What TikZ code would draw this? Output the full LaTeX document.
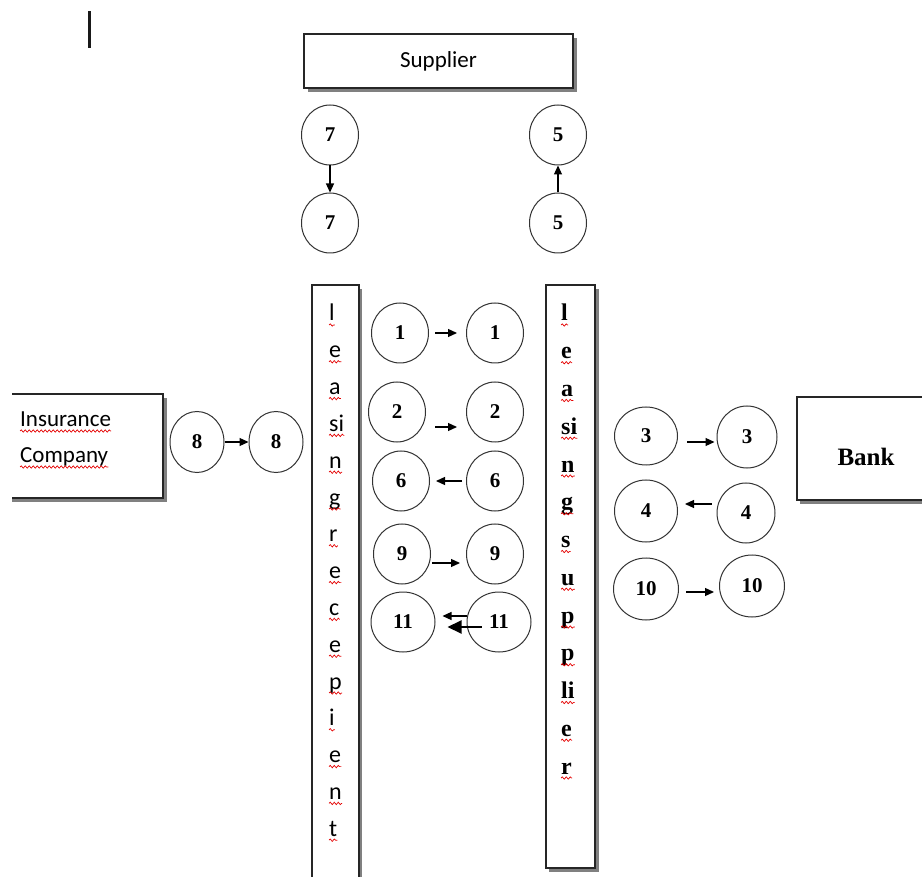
\documentclass[tikz,border=0pt]{standalone}
\usepackage{fontspec}
\setmainfont{Liberation Serif}
\newfontfamily\calibri{Carlito}
\usetikzlibrary{shapes.geometric,arrows.meta,decorations.pathmorphing}

\begin{document}
\begin{tikzpicture}[x=1pt,y=-1pt,
  every node/.style={inner sep=0pt},
  boxline/.style={draw=black!85, line width=1.1pt},
  shade/.style={fill=black!50},
  disc/.style={ellipse, draw=black!80, line width=1pt, minimum width=57pt,
    minimum height=60pt, font=\fontsize{21}{21}\selectfont\bfseries},
  arr/.style={draw=black, line width=1.2pt, -{Triangle[length=9pt,width=8pt]}},
  bigarr/.style={draw=black, line width=2pt, -{Triangle[length=14pt,width=13pt]}},
  squig/.style={draw=red!90!black, line width=0.7pt, decorate,
    decoration={snake, amplitude=1.2pt, segment length=4pt}},
  lletter/.style={anchor=base west, font=\calibri\fontsize{24}{24}\selectfont},
  rletter/.style={anchor=base west, font=\fontsize{24}{24}\selectfont\bfseries}]
\clip (0,0) rectangle (922,877);
\fill[white] (0,0) rectangle (922,877);

% cursor mark in the corner
\fill[black!90] (88,11) rectangle (91,48);

% Supplier
\fill[shade] (308,38) rectangle (577,92);
\node[boxline, fill=white, minimum width=269pt, minimum height=54pt,
  font=\calibri\fontsize{23}{23}\selectfont] (sup) at (438.5,61) {Supplier};

% Insurance Company (open on the left)
\fill[shade] (12,498) rectangle (167,502);
\fill[shade] (163,398) rectangle (167,502);
\fill[white] (12,394) rectangle (163,498);
\draw[boxline] (12,394) -- (163,394) -- (163,498) -- (12,498);
\node[anchor=base west, font=\calibri\fontsize{23}{23}\selectfont] (ins1) at (20,427) {Insurance};
\node[anchor=base west, font=\calibri\fontsize{23}{23}\selectfont] (ins2) at (20,463) {Company};
\draw[squig] ([yshift=-4pt]ins1.base west) -- ([yshift=-4pt]ins1.base east);
\draw[squig] ([yshift=-4pt]ins2.base west) -- ([yshift=-4pt]ins2.base east);

% Bank
\fill[shade] (800,500) rectangle (930,504);
\node[boxline, fill=white, minimum width=143pt, minimum height=103pt] (bank) at (868.5,448.5) {};
\node[font=\fontsize{25}{25}\selectfont\bfseries] (banklbl) at (866,457) {Bank};

% leasing recepient column
\fill[shade] (359,289) rectangle (362,880);
\fill[white] (312,285) rectangle (359,880);
\draw[boxline] (312,880) -- (312,285) -- (359,285) -- (359,880);
\foreach \t [count=\i] in {l,e,a,si,n,g,r,e,c,e,p,i,e,n,t} {
  \node[lletter] (lr\i) at (329,{321+36.8*(\i-1)}) {\t};
  \draw[squig] ([yshift=-4pt]lr\i.base west) -- ([yshift=-4pt]lr\i.base east);
}

% leasing supplier column
\fill[shade] (549,289) rectangle (599,872);
\node[boxline, fill=white, minimum width=49pt, minimum height=583pt] (lsbar) at (570.5,576.5) {};
\foreach \t [count=\i] in {l,e,a,si,n,g,s,u,p,p,li,e,r} {
  \node[rletter] (ls\i) at (561,{321+37.75*(\i-1)}) {\t};
  \draw[squig] ([yshift=-4pt]ls\i.base west) -- ([yshift=-4pt]ls\i.base east);
}

% message circles
\node[disc] (c7a) at (330,135) {7};
\node[disc] (c7b) at (330,223) {7};
\node[disc] (c5a) at (558,135) {5};
\node[disc] (c5b) at (558,223) {5};
\node[disc, minimum width=54pt, minimum height=61pt] (c8a) at (197,442) {8};
\node[disc, minimum width=54pt, minimum height=61pt] (c8b) at (276,442) {8};
\node[disc] (c1a) at (400,333) {1};
\node[disc] (c1b) at (495,333) {1};
\node[disc] (c2a) at (397,412) {2};
\node[disc] (c2b) at (495,412) {2};
\node[disc] (c6a) at (401,481) {6};
\node[disc] (c6b) at (495,481) {6};
\node[disc] (c9a) at (402,554) {9};
\node[disc] (c9b) at (495,554) {9};
\node[disc, minimum width=64pt] (c11a) at (403,622) {11};
\node[disc, minimum width=64pt] (c11b) at (499,622) {11};
\node[disc, minimum width=63pt, minimum height=58pt] (c3a) at (646,436) {3};
\node[disc, minimum width=60pt, minimum height=62pt] (c3b) at (747,437) {3};
\node[disc, minimum width=63pt, minimum height=62pt] (c4a) at (646,511) {4};
\node[disc, minimum width=58pt, minimum height=60pt] (c4b) at (746,513) {4};
\node[disc, minimum width=65pt, minimum height=62pt] (c10a) at (646,589) {10};
\node[disc, minimum width=65pt, minimum height=62pt] (c10b) at (752,586) {10};

% arrows
\draw[arr] (c7a.south) -- (c7b.north);
\draw[arr] (c5b.north) -- (c5a.south);
\draw[arr] (c8a.east) -- (c8b.west);
\draw[arr] ([shift={(6,0)}]c1a.east) -- ([shift={(-9,0)}]c1b.west);
\draw[arr] ([shift={(9,15)}]c2a.east) -- ([shift={(-9,15)}]c2b.west);
\draw[arr] ([shift={(-4,0)}]c6b.west) -- ([shift={(6,0)}]c6a.east);
\draw[arr] ([shift={(1,9)}]c9a.east) -- ([shift={(-6,9)}]c9b.west);
\draw[arr] ([shift={(0,-6)}]c11b.west) -- ([shift={(7,-6)}]c11a.east);
\draw[bigarr] ([shift={(15,5)}]c11b.west) -- ([shift={(12,5)}]c11a.east);
\draw[arr] ([shift={(9,6)}]c3a.east) -- ([shift={(-2,5)}]c3b.west);
\draw[arr] ([shift={(-5,-9)}]c4b.west) -- ([shift={(7,-7)}]c4a.east);
\draw[arr] ([shift={(7,3)}]c10a.east) -- ([shift={(-5,6)}]c10b.west);
\end{tikzpicture}
\end{document}
